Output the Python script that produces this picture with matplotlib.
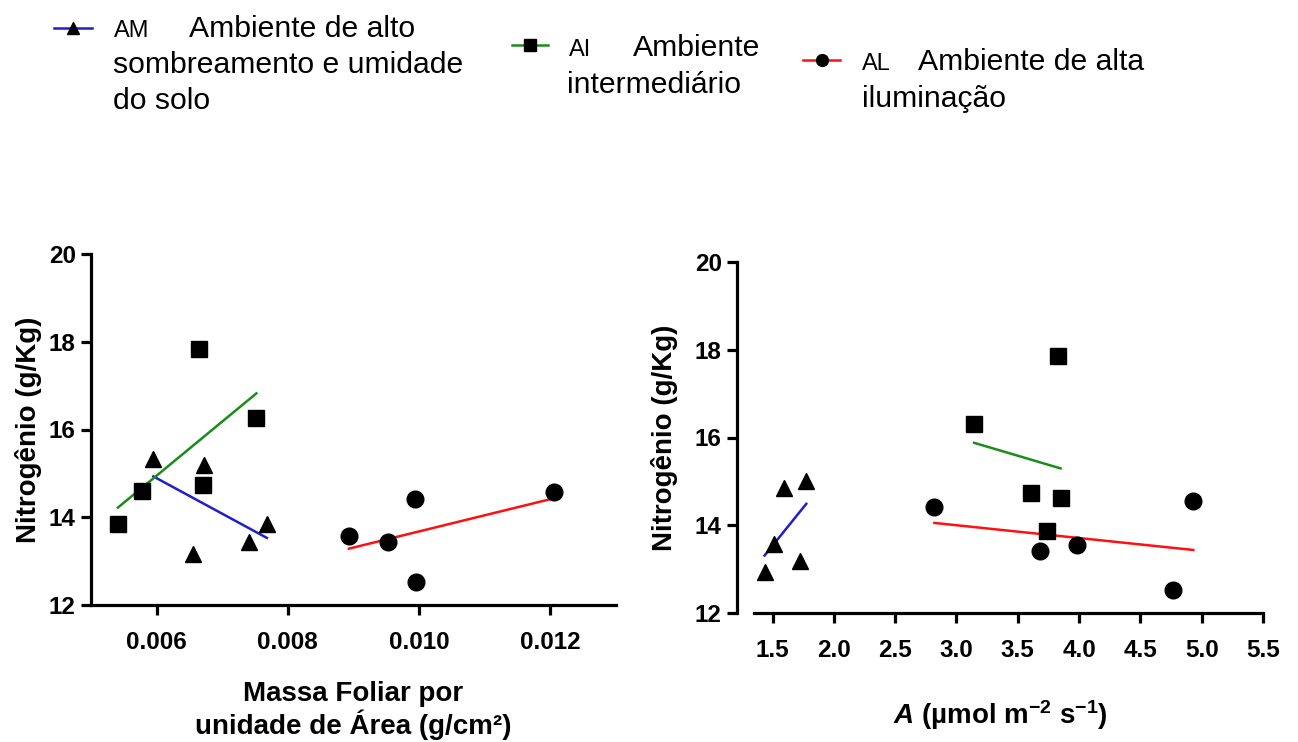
import numpy as np
import matplotlib
matplotlib.use("Agg")
import matplotlib.pyplot as plt
from matplotlib.lines import Line2D

plt.rcParams['font.family'] = ['Liberation Sans', 'DejaVu Sans']
plt.rcParams['mathtext.fontset'] = 'custom'
plt.rcParams['mathtext.rm'] = 'Liberation Sans'
plt.rcParams['mathtext.bf'] = 'Liberation Sans:bold'
plt.rcParams['mathtext.it'] = 'Liberation Sans:italic'
plt.rcParams['mathtext.bfit'] = 'Liberation Sans:bold:italic'

# ---------------- data ----------------
mfa_AM = [0.00595, 0.00672, 0.00655, 0.00741, 0.00768]
n_AM_mfa = [15.33, 15.19, 13.16, 13.43, 13.85]
mfa_AI = [0.00541, 0.00578, 0.00665, 0.00670, 0.00752]
n_AI_mfa = [13.85, 14.59, 17.83, 14.74, 16.27]
mfa_AL = [0.00893, 0.00952, 0.00993, 0.00995, 0.01206]
n_AL_mfa = [13.58, 13.43, 14.42, 12.53, 14.57]

A_AM = [1.435, 1.51, 1.59, 1.727, 1.775]
n_AM_A = [12.92, 13.57, 14.84, 13.19, 15.00]
A_AI = [3.144, 3.825, 3.608, 3.849, 3.735]
n_AI_A = [16.30, 17.87, 14.73, 14.61, 13.86]
A_AL = [2.82, 3.68, 3.979, 4.77, 4.932]
n_AL_A = [14.42, 13.42, 13.55, 12.52, 14.56]

yticks = [12, 14, 16, 18, 20]
xticks_left = [0.006, 0.008, 0.010, 0.012]
xticklabels_left = ["0.006", "0.008", "0.010", "0.012"]
xticks_right = [1.5, 2.0, 2.5, 3.0, 3.5, 4.0, 4.5, 5.0, 5.5]

groups = ["AM", "AI", "AL"]
group_desc = [["Ambiente de alto", "sombreamento e umidade", "do solo"],
              ["Ambiente", "intermediário"],
              ["Ambiente de alta", "iluminação"]]
markers = {"AM": "^", "AI": "s", "AL": "o"}
line_colors = {"AM": "#1f1fc8", "AI": "#1a8c1a", "AL": "#ff1010"}
msizes = {"AM": 12, "AI": 11.5, "AL": 12}

W, H = 1298, 742
fig = plt.figure(figsize=(W / 100, H / 100), dpi=100)


def fx(px):
    return px / W


def fy(py):
    return 1 - py / H


axL = fig.add_axes([fx(91), fy(605), fx(616) - fx(91), fy(254) - fy(605)])
axR = fig.add_axes([fx(737), fy(612.7), fx(1263) - fx(737), fy(262.3) - fy(612.7)])

datasets_left = {"AM": (mfa_AM, n_AM_mfa), "AI": (mfa_AI, n_AI_mfa), "AL": (mfa_AL, n_AL_mfa)}
datasets_right = {"AM": (A_AM, n_AM_A), "AI": (A_AI, n_AI_A), "AL": (A_AL, n_AL_A)}

for ax, ds in ((axL, datasets_left), (axR, datasets_right)):
    for g in groups:
        x, y = np.array(ds[g][0]), np.array(ds[g][1])
        ax.plot(x, y, linestyle='none', marker=markers[g], markersize=msizes[g],
                color='black', zorder=3)
        k, b = np.polyfit(x, y, 1)
        xx = np.array([x.min(), x.max()])
        ax.plot(xx, k * xx + b, color=line_colors[g], lw=1.8, zorder=2)

tick_font = dict(fontsize=17.5, fontweight='bold')
for ax, lp in ((axL, 5), (axR, 12)):
    ax.set_ylim(12, 20)
    ax.set_yticks(yticks)
    ax.set_yticklabels([str(v) for v in yticks], **tick_font)
    for s in ('top', 'right'):
        ax.spines[s].set_visible(False)
    for s in ('left', 'bottom'):
        ax.spines[s].set_linewidth(2.3)
    ax.tick_params(axis='both', width=2.3, length=7, pad=4, direction='out')
    ax.set_ylabel("Nitrogênio (g/Kg)", fontsize=20, fontweight='bold', labelpad=lp)

axL.set_xlim(0.005, 0.013)
axL.set_xticks(xticks_left)
axL.set_xticklabels(xticklabels_left, **tick_font)
axL.tick_params(axis='x', pad=12)
axL.set_xlabel("Massa Foliar por\nunidade de Área (g/cm²)", fontsize=20,
               fontweight='bold', labelpad=19, linespacing=1.1)

axR.set_xlim(1.21, 5.5)
axR.spines['bottom'].set_bounds(1.35, 5.5)
axR.set_xticks(xticks_right)
axR.set_xticklabels([f"{v:.1f}" for v in xticks_right], **tick_font)
axR.tick_params(axis='x', pad=12)
axR.set_xlabel(r"$\mathbfit{A}$ (µmol m$^{\mathbf{-2}}$ s$^{\mathbf{-1}}$)", fontsize=20,
               fontweight='bold', labelpad=26)

# ---------------- legend (manual) ----------------
leg_items = [
    # group, line x0, x1, y, abbrev x, desc x, baselines, continuation x
    ("AM", 54, 92, 28, 114, 189, [37, 73, 109], 113),
    ("AI", 512, 548, 45, 569, 633, [56, 93], 567),
    ("AL", 803, 840, 60, 862, 918, [70, 107], 862),
]
for g, x0, x1, yy, xab, xdesc, bls, xcont in leg_items:
    fig.add_artist(Line2D([fx(x0), fx(x1)], [fy(yy), fy(yy)], transform=fig.transFigure,
                          color=line_colors[g], lw=1.8))
    fig.add_artist(Line2D([fx((x0 + x1) / 2)], [fy(yy)], transform=fig.transFigure,
                          marker=markers[g], markersize=8.5, color='black', linestyle='none'))
    desc = group_desc[groups.index(g)]
    fig.text(fx(xab), fy(bls[0]), g, fontsize=17, va='baseline', ha='left')
    fig.text(fx(xdesc), fy(bls[0]), desc[0], fontsize=21.7, va='baseline', ha='left')
    for line, bl in zip(desc[1:], bls[1:]):
        fig.text(fx(xcont), fy(bl), line, fontsize=21.7, va='baseline', ha='left')

fig.savefig("out.png", dpi=100)
